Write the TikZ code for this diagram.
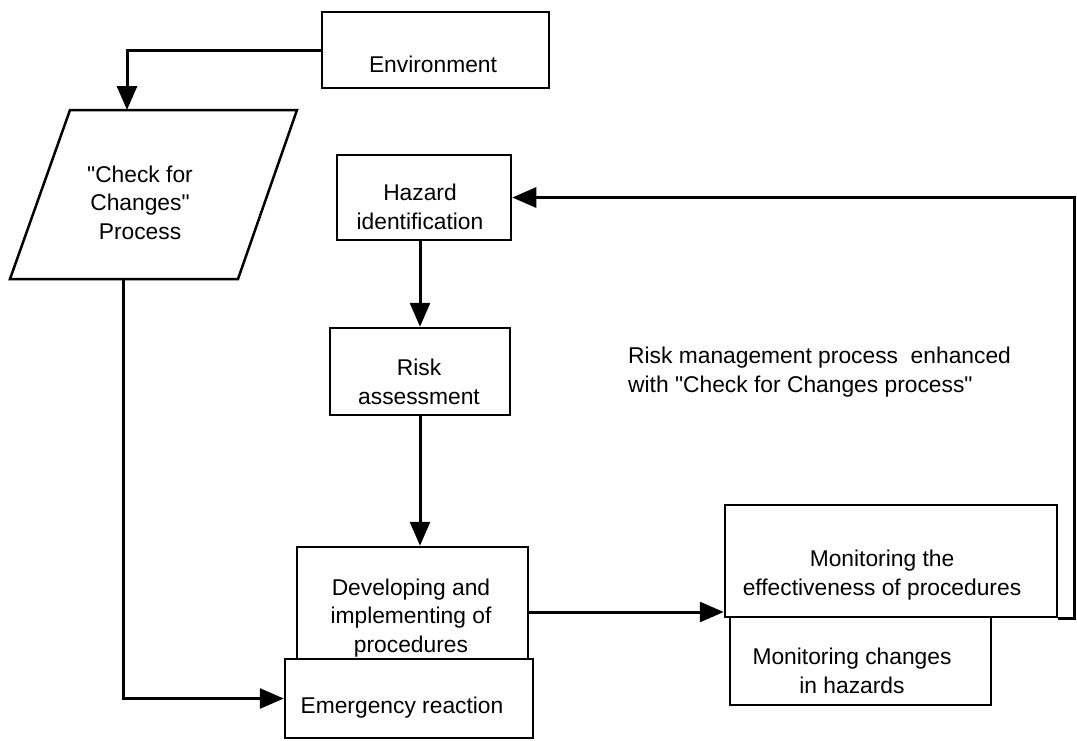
\documentclass[tikz,border=0pt]{standalone}
\usepackage{fontspec}
\setmainfont{Liberation Sans}[Ligatures=TeXOff]
\usetikzlibrary{arrows.meta}
\begin{document}
\begin{tikzpicture}[x=1pt,y=-1pt,
  box/.style={draw, line width=2.5pt, inner sep=0pt},
  lbl/.style={align=center, anchor=base, font=\fontsize{22.8}{28.5}\selectfont, inner sep=0pt},
  arr/.style={line width=3pt, line join=miter, -{Triangle[length=24pt,width=20pt]}}]
\useasboundingbox (0,0) rectangle (1077,740);

% Environment
\node[box, minimum width=227pt, minimum height=76pt] (env) at (435.5,50) {};
\node[lbl] (envt) at (433,72) {Environment};

% Check for changes (parallelogram)
\draw[line width=2.5pt, line join=miter] (70,110) -- (297,110) -- (238,279) -- (10,279) -- cycle;
\coordinate (chktop) at (127,110);
\coordinate (chkbot) at (123,279);
\node[lbl] (chkt) at (140,239) {"Check for\\Changes"\\Process};

% Hazard identification
\node[box, minimum width=174pt, minimum height=85pt] (haz) at (424,197.5) {};
\node[lbl] (hazt) at (420,229) {Hazard\\identification};

% Risk assessment
\node[box, minimum width=180pt, minimum height=87pt] (risk) at (420,371.5) {};
\node[lbl] (riskt) at (419,404) {Risk\\assessment};

% Developing
\node[box, minimum width=231pt, minimum height=112pt] (dev) at (412.5,603) {};
\node[lbl] (devt) at (411,652) {Developing and\\implementing of\\procedures};

% Emergency reaction
\node[box, minimum width=248pt, minimum height=79pt] (emer) at (409,698.5) {};
\node[lbl] (emert) at (402,713) {Emergency reaction};

% Monitoring boxes
\node[box, minimum width=332pt, minimum height=112pt] (mte) at (891,561) {};
\node[lbl] (mtet) at (882,595) {Monitoring the\\effectiveness of procedures};
\node[box, minimum width=261pt, minimum height=88pt] (mch) at (860.5,661) {};
\node[lbl] (mcht) at (852,693) {Monitoring changes\\in hazards};

% Note
\node[lbl, align=left, anchor=base west] (note) at (628,392) {Risk management process\ \ enhanced\\with "Check for Changes process"};

% Connectors
\draw[arr] (env.west) -| (chktop);
\draw[arr] (chkbot) |- (emer.west);
\draw[arr] (risk.north |- haz.south) -- (risk.north);
\draw[arr] (risk.south) -- (risk.south |- dev.north);
\draw[arr] (dev.east |- 0,612) -- (mte.west |- 0,612);
\draw[arr] (mte.south east) -- ++(16,0) |- (haz.east);
\end{tikzpicture}
\end{document}
